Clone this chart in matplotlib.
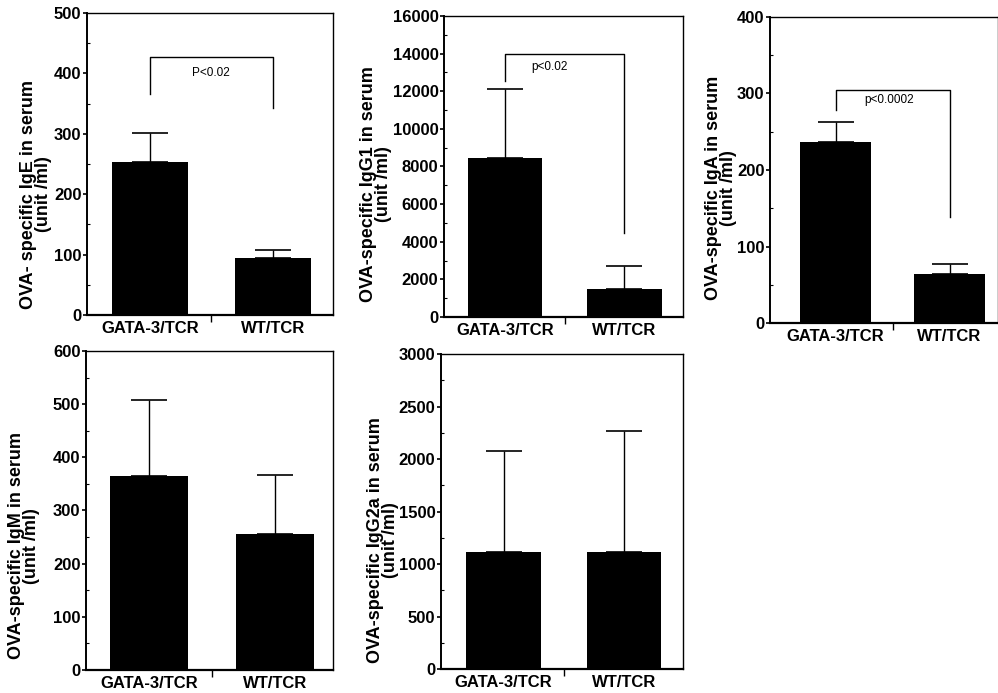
import matplotlib
matplotlib.use("Agg")
import matplotlib.pyplot as plt
from matplotlib.ticker import MultipleLocator

plt.rcParams['font.family'] = ['Liberation Sans', 'DejaVu Sans']

groups = ["GATA-3/TCR", "WT/TCR"]

# means and upper SD per panel
ige = [254, 94]
ige_err = [47, 13]
igg1 = [8450, 1500]
igg1_err = [3650, 1200]
iga = [236, 64]
iga_err = [27, 13]
igm = [364, 256]
igm_err = [143, 111]
igg2a = [1118, 1118]
igg2a_err = [962, 1152]

# significance brackets: left leg end, top, right leg end, label
ige_sig = [366, 427, 342, "P<0.02"]
igg1_sig = [12550, 14000, 4450, "p<0.02"]
iga_sig = [278, 305, 138, "p<0.0002"]

panels = [
    # values, errors, ylabel, ylim, major, minor, axes rect, xlim, sig, text pos, label pos
    (ige, ige_err, "OVA- specific IgE in serum\n(unit /ml)", 500, 100, 50,
     [0.0872, 0.5455, 0.2465, 0.4358], (-0.51, 1.49), ige_sig, (0.5, 400), (-0.207, 0.40)),
    (igg1, igg1_err, "OVA-specific IgG1 in serum\n(unit /ml)", 16000, 2000, 1000,
     [0.4449, 0.5426, 0.2395, 0.4343], (-0.51, 1.49), igg1_sig, (0.37, 13300), (-0.285, 0.44)),
    (iga, iga_err, "OVA-specific IgA in serum\n(unit /ml)", 400, 100, 50,
     [0.7715, 0.5339, 0.2285, 0.4416], (-0.575, 1.425), iga_sig, (0.47, 292), (-0.215, 0.44)),
    (igm, igm_err, "OVA-specific IgM in serum\n(unit /ml)", 600, 100, 50,
     [0.0862, 0.0332, 0.2475, 0.4603], (-0.5, 1.46), None, None, (-0.25, 0.39)),
    (igg2a, igg2a_err, "OVA-specific IgG2a in serum\n(unit /ml)", 3000, 500, 250,
     [0.4419, 0.0346, 0.2425, 0.4545], (-0.52, 1.49), None, None, (-0.24, 0.41)),
]

fig = plt.figure(figsize=(9.98, 6.93), dpi=100)

for vals, errs, ylab, ymax, major, minor, rect, xlim, sig, tpos, lpos in panels:
    ax = fig.add_axes(rect)
    x = list(range(len(groups)))
    ax.bar(x, vals, width=0.62, color="black", zorder=2)
    ax.errorbar(x, vals, yerr=[[0] * len(errs), errs], fmt="none",
                ecolor="black", elinewidth=1, capsize=13, capthick=1.2, zorder=1)
    ax.set_xlim(*xlim)
    ax.set_ylim(0, ymax)
    ax.yaxis.set_major_locator(MultipleLocator(major))
    ax.yaxis.set_minor_locator(MultipleLocator(minor))
    ax.set_xticks([0.5])
    ax.set_xticklabels([""])
    ax.set_xticks(x, minor=True)
    ax.set_xticklabels(groups, minor=True, fontsize=12, fontweight="bold")
    ax.tick_params(axis="x", which="major", direction="out", length=5, width=1)
    ax.tick_params(axis="x", which="minor", length=0, pad=4)
    ax.tick_params(axis="y", which="major", direction="out", length=3, width=1.2,
                   labelsize=12, pad=1)
    ax.tick_params(axis="y", which="minor", direction="in", length=2, width=0.8)
    for lab in ax.get_yticklabels():
        lab.set_fontweight("bold")
    ax.set_ylabel(ylab, fontsize=13, fontweight="bold", linespacing=0.85,
                  va="center")
    ax.yaxis.set_label_coords(*lpos)
    for side in ["top", "right"]:
        ax.spines[side].set_linewidth(1.0)
    ax.spines["left"].set_linewidth(1.4)
    ax.spines["bottom"].set_linewidth(1.6)

    if sig is not None:
        yl, yt, yr, txt = sig
        ax.plot([0, 0, 1, 1], [yl, yt, yt, yr], color="black", lw=1.0)
        ax.text(tpos[0], tpos[1], txt, ha="center", va="center", fontsize=8.5)

fig.savefig("out.png", dpi=100)
